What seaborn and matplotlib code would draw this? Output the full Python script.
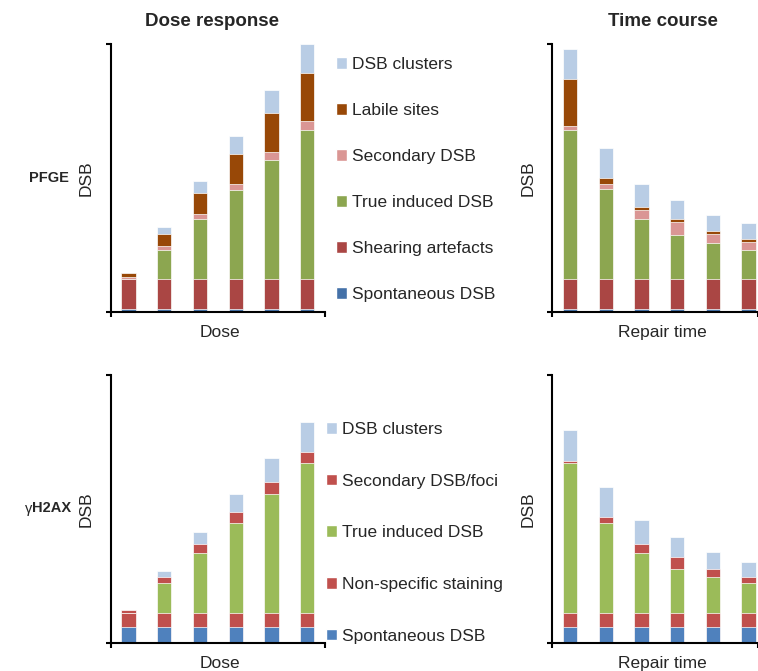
import numpy as np
import matplotlib
matplotlib.use("Agg")
import matplotlib.pyplot as plt
from matplotlib.patches import Patch
import seaborn as sns

# bar heights, arbitrary units (axis top = 268)
doses = ["1", "2", "3", "4", "5", "6"]

# PFGE, dose response
pf_dose_spont = [2.5, 2.5, 2.5, 2.5, 2.5, 2.5]
pf_dose_shear = [30, 30, 30, 30, 30, 30]
pf_dose_true = [0, 29, 60, 89, 119, 149]
pf_dose_second = [2.7, 4.3, 5.7, 6.7, 8, 9.3]
pf_dose_labile = [3.3, 11.7, 20.3, 29.7, 39.7, 47.7]
pf_dose_clust = [0, 7, 12.3, 17.7, 23, 29.7]

# PFGE, time course
pf_time_spont = [2.5, 2.5, 2.5, 2.5, 2.5, 2.5]
pf_time_shear = [30, 30, 30, 30, 30, 30]
pf_time_true = [149, 90, 60, 44.7, 36, 29.7]
pf_time_second = [4, 5.3, 9, 12.3, 9, 7.7]
pf_time_labile = [47.7, 6.3, 3.3, 3, 3, 3]
pf_time_clust = [30, 30, 23, 19, 16.7, 15.7]

# gH2AX, dose response
gh_dose_spont = [15.3, 15.3, 15.3, 15.3, 15.3, 15.3]
gh_dose_nonspec = [14.7, 14.7, 14.7, 14.7, 14.7, 14.7]
gh_dose_true = [0, 30, 59.7, 89.3, 118.7, 149.7]
gh_dose_second = [2.7, 5.3, 8.7, 11.7, 12, 11]
gh_dose_clust = [0, 6.7, 12, 17.7, 24.3, 30.3]

# gH2AX, time course
gh_time_spont = [15.3, 15.3, 15.3, 15.3, 15.3, 15.3]
gh_time_nonspec = [14.7, 14.7, 14.7, 14.7, 14.7, 14.7]
gh_time_true = [149.7, 89.3, 59.7, 44, 35.3, 30]
gh_time_second = [2.3, 6.7, 9, 12, 8.3, 5.3]
gh_time_clust = [30.3, 29.3, 23.7, 20, 17, 15.3]

pf_labels = ["DSB clusters", "Labile sites", "Secondary DSB", "True induced DSB",
             "Shearing artefacts", "Spontaneous DSB"]
pf_colors = ["#B9CDE5", "#984807", "#DA9694", "#8CA650", "#AA4644", "#4471A8"]
gh_labels = ["DSB clusters", "Secondary DSB/foci", "True induced DSB",
             "Non-specific staining", "Spontaneous DSB"]
gh_colors = ["#B9CDE5", "#C0504D", "#9BBB59", "#C0504D", "#4F81BD"]

sns.set_style("white")
plt.rcParams['font.family'] = ['Liberation Sans', 'DejaVu Sans']

W, H = 758, 671
fig = plt.figure(figsize=(W / 100, H / 100), dpi=100)


def px_axes(x0, x1, ytop, ybot):
    return fig.add_axes([x0 / W, 1 - ybot / H, (x1 - x0) / W, (ybot - ytop) / H])


def stacked(ax, layers, colors, xmax, xlabel, xlab_x):
    # layers given bottom -> top; draw cumulative totals from the top down
    cum = np.cumsum(np.array(layers, dtype=float), axis=0)
    for i in range(len(layers) - 1, -1, -1):
        sns.barplot(x=doses, y=cum[i], color=colors[i], saturation=1, width=0.4,
                    edgecolor="white", linewidth=0.5, ax=ax)
    ax.set_xlim(-0.5, xmax)
    ax.set_ylim(0, 268)
    ax.set_xticks([-0.5, xmax])
    ax.set_yticks([0, 268])
    ax.set_xticklabels([])
    ax.set_yticklabels([])
    ax.tick_params(direction="out", length=3.6, width=1.5, color="black",
                   bottom=True, left=True)
    sns.despine(ax=ax)
    for s in ["left", "bottom"]:
        ax.spines[s].set_linewidth(1.5)
        ax.spines[s].set_color("black")
    ax.set_ylabel("DSB", fontsize=12.5)
    ax.set_xlabel(xlabel, fontsize=12.5)
    ax.yaxis.set_label_coords(-0.08, 0.5)
    ax.xaxis.set_label_coords(xlab_x, -0.05)


ax1 = px_axes(110.7, 325, 44, 311.7)
ax2 = px_axes(552.3, 758, 44, 311.7)
ax3 = px_axes(110.7, 325, 374.7, 642.7)
ax4 = px_axes(552.3, 758, 374.7, 642.7)

pf_c = pf_colors[::-1]
gh_c = gh_colors[::-1]
stacked(ax1, [pf_dose_spont, pf_dose_shear, pf_dose_true, pf_dose_second,
              pf_dose_labile, pf_dose_clust], pf_c, 5.5, "Dose", 0.51)
stacked(ax2, [pf_time_spont, pf_time_shear, pf_time_true, pf_time_second,
              pf_time_labile, pf_time_clust], pf_c, 5.27, "Repair time", 0.533)
stacked(ax3, [gh_dose_spont, gh_dose_nonspec, gh_dose_true, gh_dose_second,
              gh_dose_clust], gh_c, 5.5, "Dose", 0.51)
stacked(ax4, [gh_time_spont, gh_time_nonspec, gh_time_true, gh_time_second,
              gh_time_clust], gh_c, 5.27, "Repair time", 0.533)

# legends
fig.legend([Patch(facecolor=c) for c in pf_colors], pf_labels,
           loc="upper left", bbox_to_anchor=(336 / W, 1 - 57 / H),
           frameon=False, borderpad=0, borderaxespad=0, fontsize=12.5,
           handlelength=0.65, handleheight=0.65, handletextpad=0.25,
           labelspacing=1.79)
fig.legend([Patch(facecolor=c) for c in gh_colors], gh_labels,
           loc="upper left", bbox_to_anchor=(326 / W, 1 - 422 / H),
           frameon=False, borderpad=0, borderaxespad=0, fontsize=12.5,
           handlelength=0.65, handleheight=0.65, handletextpad=0.25,
           labelspacing=2.11)

# column titles and row labels
fig.text(211.7 / W, 1 - 22 / H, "Dose response", ha="center", va="center",
         fontsize=13.5, fontweight="bold")
fig.text(662.5 / W, 1 - 22 / H, "Time course", ha="center", va="center",
         fontsize=13.5, fontweight="bold")
fig.text(48.5 / W, 1 - 178.5 / H, "PFGE", ha="center", va="center",
         fontsize=10.5, fontweight="bold")
fig.text(32 / W, 1 - 508.5 / H, "γ", ha="right", va="center", fontsize=10.5)
fig.text(32 / W, 1 - 508.5 / H, "H2AX", ha="left", va="center",
         fontsize=10.5, fontweight="bold")

fig.savefig("out.png", dpi=100)
